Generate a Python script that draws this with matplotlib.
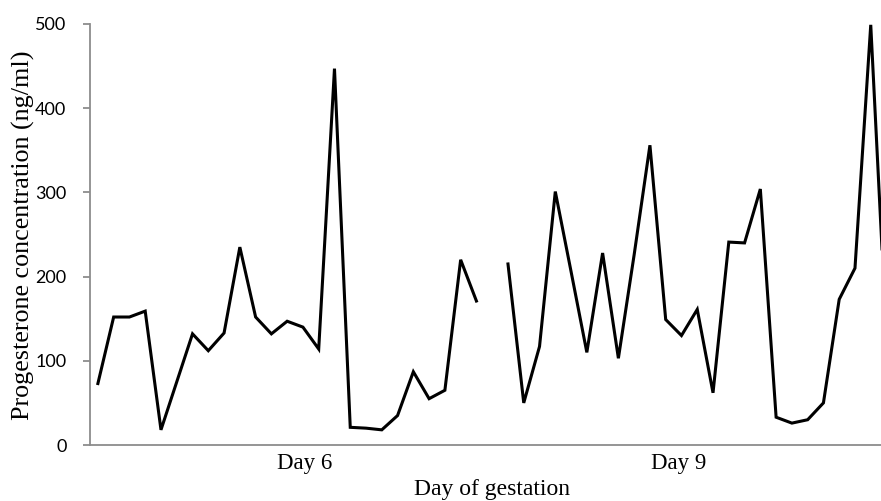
import numpy as np
import matplotlib.pyplot as plt

# Progesterone samples, day 6 run then day 9 run (nan = missing sample between runs)
day6_values = [73, 152, 152, 159, 18, 75, 132, 112, 133, 235, 152, 132, 147, 140,
               114, 447, 21, 20, 18, 35, 87, 55, 65, 220, 171]
day9_values = [215, 50, 117, 301, 206, 110, 228, 103, 226, 356, 149, 130, 161,
               62, 241, 240, 304, 33, 26, 30, 50, 173, 210, 499, 126]
day_labels = ["Day 6", "Day 9"]
y_ticks = [0, 100, 200, 300, 400, 500]

values = np.array(day6_values + [np.nan] + day9_values, dtype=float)
x = np.arange(len(values))

fig = plt.figure(figsize=(8.81, 5.01), dpi=100)
ax = fig.add_axes([90 / 881, 56 / 501, 1 - 90 / 881, 421 / 501])

ax.plot(x, values, color='black', linewidth=2.2, solid_joinstyle='miter')

ax.set_xlim(-0.5, 49.65)
ax.set_ylim(0, 500)

axis_grey = '#8c8c8c'
for side in ['top', 'right']:
    ax.spines[side].set_visible(False)
for side in ['left', 'bottom']:
    ax.spines[side].set_color(axis_grey)
    ax.spines[side].set_linewidth(1.3)

ax.set_yticks(y_ticks)
ax.set_yticklabels([str(v) for v in y_ticks], fontfamily='Lato', fontsize=13)
ax.tick_params(axis='y', length=5, width=1.3, color=axis_grey, pad=12)

# category labels sit under the middle of each sampling run
ax.set_xticks([13.1, 36.85])
ax.set_xticklabels(day_labels, fontfamily='Liberation Serif', fontsize=16.5)
ax.tick_params(axis='x', length=0, pad=6)

fig.text(23 / 881, 1 - 235 / 501, 'Progesterone concentration (ng/ml)',
         rotation=90, ha='center', va='center',
         fontfamily='Liberation Serif', fontsize=18.8)
fig.text(492 / 881, 1 - 495 / 501, 'Day of gestation', ha='center', va='baseline',
         fontfamily='Liberation Serif', fontsize=17)

fig.savefig('out.png', dpi=100)
